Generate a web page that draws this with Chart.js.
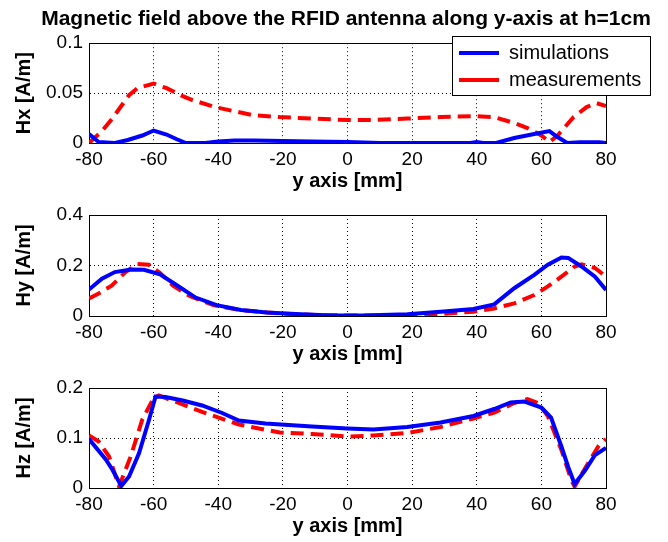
<!DOCTYPE html>
<html>
<head>
<meta charset="utf-8">
<script src="https://cdn.jsdelivr.net/npm/chart.js"></script>
<style>
  html, body { margin: 0; padding: 0; overflow: hidden; background: #fff; width: 668px; height: 542px; }
  .box { position: absolute; left: 0; }
  canvas { display: block; }
</style>
</head>
<body>
<div class="box" style="top:0px"><canvas id="hx" width="692" height="193"></canvas></div>
<div class="box" style="top:195px"><canvas id="hy" width="692" height="171"></canvas></div>
<div class="box" style="top:366px"><canvas id="hz" width="692" height="172"></canvas></div>
<script>
// y positions along the antenna [mm]
var xTicks = [-80, -60, -40, -20, 0, 20, 40, 60, 80];
var hxTicks = [0, 0.05, 0.1];
var hyTicks = [0, 0.2, 0.4];
var hzTicks = [0, 0.1, 0.2];

// Hx
var hxSimX = [-80, -77, -72, -68, -63.5, -60, -56, -53, -50, -44, -40, -35, -29, -20, -11, 0, 10, 20, 30, 38, 40, 42, 46, 51.6, 57.8, 62.5, 65, 68, 72, 78, 80];
var hxSimY = [0.009, 0.001, 0, 0.003, 0.0075, 0.0125, 0.0085, 0.004, 0, 0, 0.0015, 0.0025, 0.0025, 0.002, 0.0015, 0.001, 0, 0, 0, 0, 0.001, 0, 0, 0.005, 0.009, 0.012, 0.006, 0, 0.0007, 0.0007, 0];
var hxMeasX = [-80, -76, -72.8, -67.6, -65, -60, -56, -51, -48, -41, -29.5, -21, -11, 0, 8, 18.5, 28.8, 39, 45.4, 51.6, 55.7, 60, 62.5, 65, 70, 74, 77, 80];
var hxMeasY = [0, 0.012, 0.0245, 0.048, 0.055, 0.0595, 0.055, 0.047, 0.043, 0.036, 0.028, 0.026, 0.0245, 0.023, 0.023, 0.0245, 0.026, 0.027, 0.026, 0.020, 0.015, 0.0075, 0.001, 0.0075, 0.026, 0.036, 0.04, 0.037];

// Hy
var hySimX = [-80, -76, -72, -67, -63, -58, -52, -47, -40.5, -33, -25, -16, -5, 5, 18.5, 28.8, 39, 45.4, 51.6, 57.8, 62, 66.2, 68.3, 72.4, 76.6, 80];
var hySimY = [0.105, 0.148, 0.174, 0.184, 0.183, 0.165, 0.115, 0.073, 0.043, 0.0235, 0.014, 0.008, 0.002, 0.002, 0.007, 0.017, 0.028, 0.046, 0.11, 0.163, 0.203, 0.232, 0.23, 0.196, 0.156, 0.103];
var hyMeasX = [-80, -77, -73, -68.7, -65, -61.5, -58, -54, -48.7, -41.5, -33, -21, -10, 0, 10, 20, 28.8, 39, 45.4, 51.6, 57.8, 62, 66.2, 70.3, 72.4, 76.6, 80];
var hyMeasY = [0.069, 0.089, 0.12, 0.174, 0.206, 0.203, 0.17, 0.12, 0.078, 0.043, 0.0235, 0.01, 0.004, 0.002, 0.002, 0.002, 0.008, 0.017, 0.03, 0.05, 0.083, 0.117, 0.156, 0.196, 0.205, 0.19, 0.156];

// Hz
var hzSimX = [-80, -74.8, -72.8, -70, -67.6, -64.5, -61.4, -59.4, -56.3, -51, -45, -38.8, -33.6, -25.4, -11, 0, 8, 18.5, 28.8, 39, 45.4, 50.5, 54.8, 60, 63, 66.2, 68.3, 70.3, 73.5, 76.6, 80];
var hzSimY = [0.098, 0.057, 0.037, 0.004, 0.023, 0.07, 0.137, 0.183, 0.182, 0.175, 0.165, 0.15, 0.135, 0.129, 0.123, 0.119, 0.117, 0.122, 0.131, 0.144, 0.158, 0.171, 0.173, 0.161, 0.141, 0.083, 0.042, 0.008, 0.035, 0.066, 0.08];
var hzMeasX = [-80, -77, -73.8, -70.7, -67.1, -63.5, -60, -58.4, -52.2, -44, -33.6, -21, -11, 0, 8, 18.5, 28.8, 39, 45.4, 51.6, 55.7, 59, 62, 66.2, 69.3, 70.3, 73.5, 77.6, 80];
var hzMeasY = [0.105, 0.093, 0.063, 0.003, 0.063, 0.137, 0.18, 0.185, 0.17, 0.15, 0.127, 0.111, 0.108, 0.103, 0.105, 0.11, 0.122, 0.139, 0.151, 0.17, 0.178, 0.17, 0.144, 0.076, 0.015, 0.003, 0.039, 0.083, 0.098];

Chart.defaults.font.family = '"Liberation Sans", Arial, Helvetica, sans-serif';
Chart.defaults.color = '#000';

var legendBox = { left: 452, top: 36, width: 199, height: 60 };

function toPoints(xs, ys) {
  return xs.map(function(x, i) { return { x: x, y: ys[i] }; });
}

// closed axes box + legend frame drawn over the grid
var framePlugin = {
  id: 'frame',
  afterLayout: function(chart) {
    if (!chart.options.plugins.legend.display) return;
    var lg = chart.legend;
    lg.left = legendBox.left;
    lg.top = legendBox.top;
    lg.width = legendBox.width;
    lg.height = legendBox.height + 30;
    lg.right = legendBox.left + legendBox.width;
    lg.bottom = legendBox.top + legendBox.height + 30;
  },
  beforeDatasetsDraw: function(chart) {
    var a = chart.chartArea, ctx = chart.ctx;
    ctx.save();
    ctx.strokeStyle = '#000';
    ctx.lineWidth = 1;
    ctx.setLineDash([]);
    ctx.strokeRect(Math.round(a.left) + 0.5, Math.round(a.top) + 0.5,
      Math.round(a.right - a.left), Math.round(a.bottom - a.top));
    if (chart.options.plugins.legend.display) {
      ctx.fillStyle = '#fff';
      ctx.fillRect(legendBox.left, legendBox.top, legendBox.width, legendBox.height);
      ctx.strokeRect(legendBox.left + 0.5, legendBox.top + 0.5, legendBox.width - 1, legendBox.height - 1);
    }
    ctx.restore();
    if (chart.options.plugins.legend.display) chart.legend.draw();
  }
};

function makeChart(id, yLabel, yTicks, simX, simY, measX, measY, opts) {
  return new Chart(document.getElementById(id), {
    type: 'line',
    data: {
      datasets: [{
        label: 'simulations',
        data: toPoints(simX, simY),
        borderColor: '#0000ff',
        backgroundColor: '#0000ff',
        borderWidth: 4,
        pointRadius: 0,
        tension: 0
      }, {
        label: 'measurements',
        data: toPoints(measX, measY),
        borderColor: '#ff0000',
        backgroundColor: '#ff0000',
        borderWidth: 4,
        borderDash: [13, 7],
        pointRadius: 0,
        tension: 0
      }]
    },
    options: {
      responsive: false,
      animation: false,
      events: [],
      layout: { padding: { top: opts.padTop, left: 0, right: 0, bottom: 0 } },
      plugins: {
        title: {
          display: !!opts.title,
          text: opts.title || '',
          color: '#000',
          font: { size: 21, weight: 'bold' },
          padding: { top: 7, bottom: 11 }
        },
        legend: {
          display: !!opts.legend,
          position: 'chartArea',
          align: 'start',
          labels: {
            color: '#000',
            font: { size: 20 },
            padding: 7,
            usePointStyle: true,
            pointStyle: 'line',
            pointStyleWidth: 40
          }
        },
        tooltip: { enabled: false }
      },
      scales: {
        x: {
          type: 'linear',
          position: 'bottom',
          min: xTicks[0],
          max: xTicks[xTicks.length - 1],
          afterBuildTicks: function(s) { s.ticks = xTicks.map(function(v) { return { value: v }; }); },
          afterFit: function(s) { s.height = 50; },
          ticks: { font: { size: 19 }, padding: 5, maxRotation: 0, autoSkip: false },
          grid: { color: '#000', lineWidth: 1, drawTicks: false },
          border: { color: '#000', width: 1, dash: [1, 3] },
          title: { display: true, text: 'y axis [mm]', font: { size: 20, weight: 'bold' }, padding: { top: 0, bottom: 0 } }
        },
        y: {
          type: 'linear',
          position: 'left',
          min: yTicks[0],
          max: yTicks[yTicks.length - 1],
          afterBuildTicks: function(s) { s.ticks = yTicks.map(function(v) { return { value: v }; }); },
          afterFit: function(s) { s.width = 89; },
          ticks: {
            font: { size: 19 },
            padding: 6,
            callback: function(v) { return String(parseFloat(Number(v).toFixed(3))); }
          },
          grid: { color: '#000', lineWidth: 1, drawTicks: false },
          border: { color: '#000', width: 1, dash: [1, 3] },
          title: { display: true, text: yLabel, font: { size: 20, weight: 'bold' }, padding: { top: 12, bottom: 0 } }
        },
        yr: {
          type: 'linear',
          position: 'right',
          display: true,
          grid: { display: false },
          ticks: { display: false },
          border: { display: false },
          afterFit: function(s) { s.width = 86; }
        }
      }
    },
    plugins: [framePlugin]
  });
}

makeChart('hx', 'Hx [A/m]', hxTicks, hxSimX, hxSimY, hxMeasX, hxMeasY,
  { title: 'Magnetic field above the RFID antenna along y-axis at h=1cm', legend: true, padTop: 0 });
makeChart('hy', 'Hy [A/m]', hyTicks, hySimX, hySimY, hyMeasX, hyMeasY, { padTop: 20 });
makeChart('hz', 'Hz [A/m]', hzTicks, hzSimX, hzSimY, hzMeasX, hzMeasY, { padTop: 22 });
</script>
</body>
</html>
